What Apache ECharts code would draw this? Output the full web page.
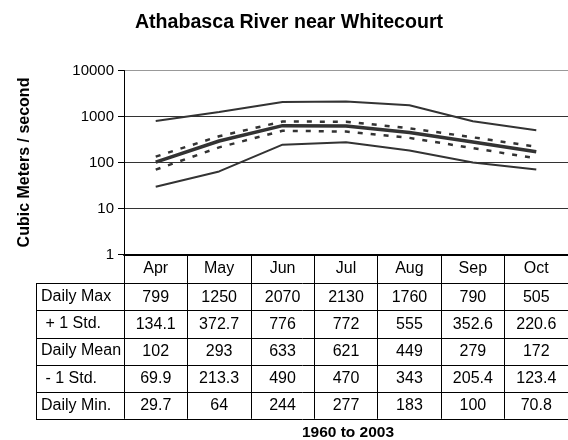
<!DOCTYPE html>
<html>
<head>
<meta charset="utf-8">
<script src="https://cdn.jsdelivr.net/npm/echarts@6/dist/echarts.min.js"></script>
<style>
  html, body { margin: 0; padding: 0; background: #fff; }
  #chart { width: 568px; height: 440px; }
</style>
</head>
<body>
<div id="chart"></div>
<script>
// Monthly flow statistics, 1960 to 2003
const months = ['Apr', 'May', 'Jun', 'Jul', 'Aug', 'Sep', 'Oct'];
const dailyMax = [799, 1250, 2070, 2130, 1760, 790, 505];
const plusStd = [134.1, 372.7, 776, 772, 555, 352.6, 220.6];
const dailyMean = [102, 293, 633, 621, 449, 279, 172];
const minusStd = [69.9, 213.3, 490, 470, 343, 205.4, 123.4];
const dailyMin = [29.7, 64, 244, 277, 183, 100, 70.8];
const rowLabels = ['Daily Max', ' + 1 Std.', 'Daily Mean', ' - 1 Std.', 'Daily Min.'];
const tableRows = [dailyMax, plusStd, dailyMean, minusStd, dailyMin];

const FONT = '"Liberation Sans", Arial, sans-serif';
const INK = '#333';

// plot / table layout
const gridLeft = 124, gridTop = 70.5, gridW = 448, gridH = 184;
const gridBottomY = gridTop + gridH;
const tableLeft = 36;
const rowTop0 = 283.3, rowH = 27.1;

// Builds a line series
function buildLine(name, data, width, dashed) {
  return {
    name: name,
    type: 'line',
    data: data,
    symbol: 'none',
    silent: true,
    lineStyle: { color: INK, width: width, type: dashed ? [5, 8] : 'solid' }
  };
}

// Header axis plus one hidden axis per table row (labels = row values)
const xAxes = [{
  type: 'category',
  data: months,
  axisLine: { lineStyle: { color: '#000', width: 2 } },
  axisTick: { show: true, length: rowTop0 + rowH * 5 - gridBottomY, lineStyle: { color: '#000', width: 1 } },
  axisLabel: { margin: 6, fontSize: 16, color: '#000', fontFamily: FONT }
}];
tableRows.forEach((row, r) => {
  xAxes.push({
    type: 'category',
    data: months,
    position: 'bottom',
    offset: rowTop0 + rowH * r - gridBottomY,
    axisLine: { show: false },
    axisTick: { show: false },
    axisLabel: {
      margin: 6,
      fontSize: 16,
      color: '#000',
      fontFamily: FONT,
      formatter: (v, i) => String(row[i])
    }
  });
});

// table borders and row labels
const graphics = [];
for (let r = 0; r <= 5; r++) {
  const y = Math.round(rowTop0 + rowH * r) + 0.5;
  graphics.push({
    type: 'line',
    shape: { x1: tableLeft, y1: y, x2: gridLeft + gridW, y2: y },
    style: { stroke: '#000', lineWidth: 1 },
    silent: true
  });
}
graphics.push({
  type: 'line',
  shape: { x1: tableLeft + 0.5, y1: Math.round(rowTop0) + 0.5, x2: tableLeft + 0.5, y2: Math.round(rowTop0 + rowH * 5) + 0.5 },
  style: { stroke: '#000', lineWidth: 1 },
  silent: true
});
rowLabels.forEach((label, r) => {
  graphics.push({
    type: 'text',
    x: tableLeft + 5,
    y: rowTop0 + rowH * r + rowH / 2,
    style: { text: label, font: '16px ' + FONT, fill: '#000', verticalAlign: 'middle', align: 'left' },
    silent: true
  });
});
graphics.push({
  type: 'text',
  x: 348,
  y: 433,
  style: { text: '1960 to 2003', font: 'bold 15.5px ' + FONT, fill: '#000', align: 'center', verticalAlign: 'middle' },
  silent: true
});

const chart = echarts.init(document.getElementById('chart'), null, { renderer: 'canvas' });
chart.setOption({
  animation: false,
  backgroundColor: '#fff',
  title: {
    text: 'Athabasca River near Whitecourt',
    left: 284,
    top: 8,
    textAlign: 'center',
    textStyle: { fontSize: 19.6, fontWeight: 'bold', color: '#000', fontFamily: FONT }
  },
  grid: { left: gridLeft, top: gridTop, width: gridW, height: gridH, containLabel: false },
  xAxis: xAxes,
  yAxis: {
    type: 'log',
    logBase: 10,
    min: 1,
    max: 10000,
    name: 'Cubic Meters / second',
    nameLocation: 'middle',
    nameRotate: 90,
    nameGap: 91,
    nameTextStyle: { fontSize: 16, fontWeight: 'bold', color: '#000', fontFamily: FONT },
    axisLine: { show: true, lineStyle: { color: '#000', width: 1 } },
    axisTick: { show: true, length: 6, lineStyle: { color: '#000' } },
    minorTick: { show: false },
    axisLabel: { margin: 10, fontSize: 15, color: '#000', fontFamily: FONT, formatter: v => String(v) },
    splitLine: { show: true, lineStyle: { color: ['#333', '#333', '#333', '#333', '#999'], width: 1 } }
  },
  series: [
    buildLine('Daily Max', dailyMax, 2, false),
    buildLine('+ 1 Std.', plusStd, 2.5, true),
    buildLine('Daily Mean', dailyMean, 3.5, false),
    buildLine('- 1 Std.', minusStd, 2.5, true),
    buildLine('Daily Min.', dailyMin, 2, false)
  ],
  graphic: graphics
});
</script>
</body>
</html>
